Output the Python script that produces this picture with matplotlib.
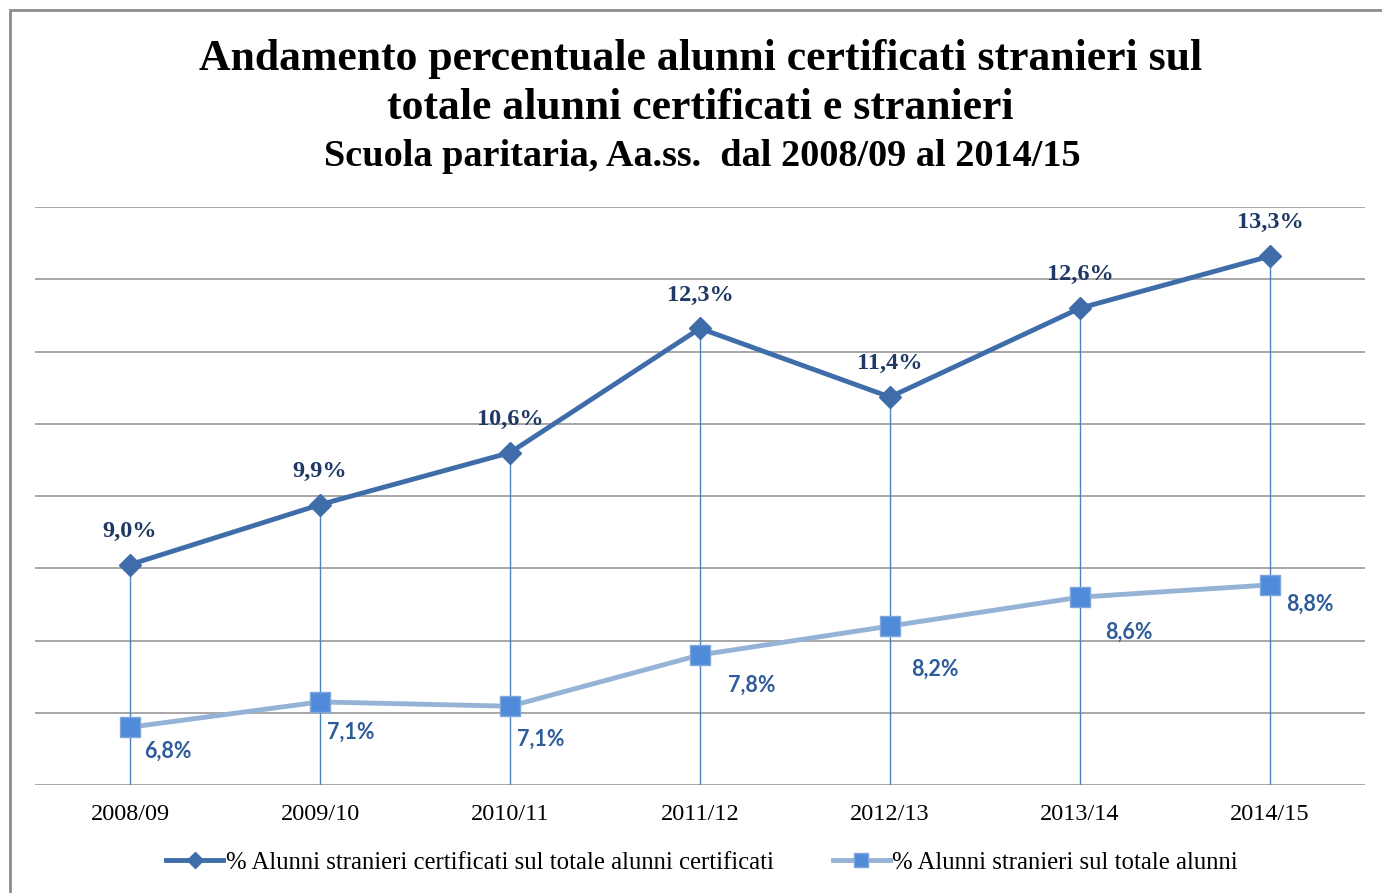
import matplotlib.pyplot as plt
from matplotlib.patches import Rectangle

years = ["2008/09", "2009/10", "2010/11", "2011/12", "2012/13", "2013/14", "2014/15"]
cert_pct = [9.05, 9.88, 10.6, 12.32, 11.37, 12.6, 13.32]
cert_labels = ["9,0%", "9,9%", "10,6%", "12,3%", "11,4%", "12,6%", "13,3%"]
tot_pct = [6.8, 7.15, 7.09, 7.8, 8.2, 8.6, 8.77]
tot_labels = ["6,8%", "7,1%", "7,1%", "7,8%", "8,2%", "8,6%", "8,8%"]

series_names = [
    "% Alunni stranieri certificati sul totale alunni certificati",
    "% Alunni stranieri sul totale alunni",
]

# label offsets (points) for the lower series, as placed in the original
tot_offsets = [(27, -17), (22, -22), (22, -24), (37, -22), (32, -31), (35, -25), (29, -14)]

DPI = 100
fig = plt.figure(figsize=(13.82, 8.93), dpi=DPI)
W, H = 1382, 893
ax = fig.add_axes([35 / W, 1 - 785 / H, 1330 / W, 578 / H])

x = list(range(len(years)))

# drop lines from the top series to the axis
for xi, yi in zip(x, cert_pct):
    ax.plot([xi, xi], [6, yi], color="#4F81BD", lw=1.0, zorder=2)

ax.plot(x, cert_pct, color="#3F6DAA", lw=3.5, marker="D", markersize=11,
        markerfacecolor="#3F6DAA", markeredgecolor="#3F6DAA", zorder=4,
        label=series_names[0])
ax.plot(x, tot_pct, color="#95B3D7", lw=3.5, marker="s", markersize=14,
        markerfacecolor="#4F8BD9", markeredgecolor="#7FA6DA", zorder=4,
        label=series_names[1])

for xi, yi, lab in zip(x, cert_pct, cert_labels):
    ax.annotate(lab, (xi, yi), xytext=(0, 24), textcoords="offset points",
                ha="center", va="center", fontsize=17.5, fontweight="bold",
                family="Liberation Serif", color="#1F3864")

for xi, yi, lab, off in zip(x, tot_pct, tot_labels, tot_offsets):
    ax.annotate(lab, (xi, yi), xytext=off, textcoords="offset points",
                ha="center", va="center", fontsize=15.5, fontweight="bold",
                family="Lato", color="#2E5C9A")

ax.set_xlim(-0.5, 6.5)
ax.set_ylim(6, 14)
ax.set_yticks(range(6, 15))
ax.set_yticklabels([])
ax.tick_params(axis="y", length=0)
ax.tick_params(axis="x", length=0, pad=14)
ax.set_xticks(x)
ax.set_xticklabels(years, family="Liberation Serif", fontsize=17.5)
ax.grid(axis="y", color="#A0A0A0", lw=1.3)
ax.set_axisbelow(True)
for s in ax.spines.values():
    s.set_visible(False)

leg = fig.legend(loc="center", bbox_to_anchor=(0.508, 1 - 863 / H), ncol=2,
                 frameon=False, prop={"family": "Liberation Serif", "size": 17.8},
                 handlelength=2.3, handletextpad=0.1, columnspacing=2.4,
                 markerscale=0.7)

fig.text(0.507, 1 - 59 / H, "Andamento percentuale alunni certificati stranieri sul",
         ha="center", va="center", fontsize=31.5, fontweight="bold",
         family="Liberation Serif")
fig.text(0.507, 1 - 108 / H, "totale alunni certificati e stranieri",
         ha="center", va="center", fontsize=31.5, fontweight="bold",
         family="Liberation Serif")
fig.text(0.508, 1 - 157 / H, "Scuola paritaria, Aa.ss.  dal 2008/09 al 2014/15",
         ha="center", va="center", fontsize=27.5, fontweight="bold",
         family="Liberation Serif")

# outer frame of the chart area
fig.patches.append(Rectangle((10 / W, -0.1), 1.0, 1.1 - 10 / H, fill=False,
                             edgecolor="#8C8C8C", lw=2, transform=fig.transFigure))

fig.savefig("out.png", dpi=DPI)
